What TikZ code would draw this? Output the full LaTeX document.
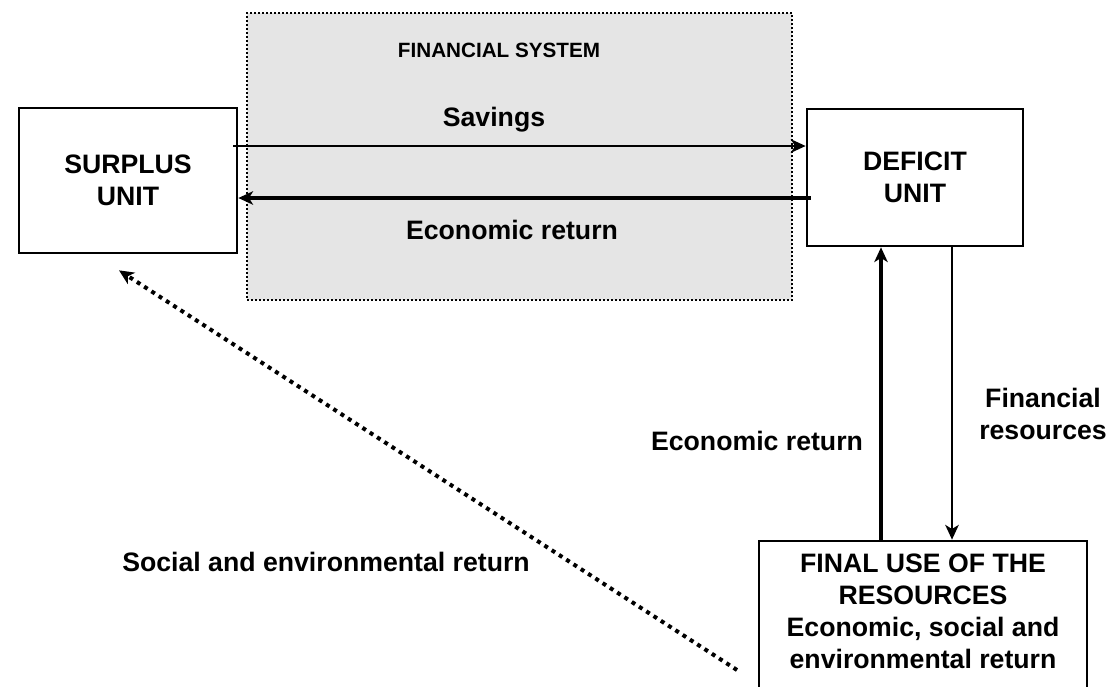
\documentclass[tikz,border=0pt]{standalone}
\usepackage{fontspec}
\setmainfont{Liberation Sans}
\usetikzlibrary{arrows.meta}

\begin{document}
\begin{tikzpicture}[x=0.75pt,y=-0.75pt,
  font=\bfseries\fontsize{20}{24}\selectfont,
  unitbox/.style={draw,line width=2pt,inner sep=0pt,align=center},
  flow/.style={-{Stealth[length=11pt,width=10pt,inset=3pt]}},
  lbl/.style={inner sep=0pt,align=center}]
  \path[use as bounding box,clip] (0,0) rectangle (1117,686);
  % financial system in the middle
  \node[draw,fill=black!10,line width=1.5pt,dash pattern=on 1.5pt off 1.5pt,
        minimum width=408.75pt,minimum height=215.25pt] (finsys) at (519.5,156.5) {};
  \node[lbl,font=\bfseries\fontsize{15.5}{18}\selectfont] (finsyslbl) at (499,50.5) {FINANCIAL SYSTEM};
  \node[unitbox,minimum width=163.5pt,minimum height=108.75pt] (surplus) at (128,180.5) {SURPLUS\\UNIT};
  \node[unitbox,minimum width=162pt,minimum height=102.75pt] (deficit) at (915,177.5) {DEFICIT\\UNIT};
  \node[unitbox,minimum width=246pt,minimum height=119.25pt] (finaluse) at (923,620.5) {};
  \node[lbl] (finaltxt) at (923,611) {FINAL USE OF THE\\RESOURCES\\Economic, social and\\environmental return};
  % flows through the system
  \coordinate (savA) at ([shift={(-5,-34.5)}]surplus.east);
  \coordinate (retA) at ([shift={(5,20.5)}]deficit.west);
  \draw[flow,line width=2pt] (savA) -- (savA -| deficit.west);
  \draw[flow,line width=2.5pt] (retA) -- (retA -| surplus.east);
  \node[lbl] (savlbl) at (494,120) {Savings};
  \node[lbl] (retlbl) at (512,229.5) {Economic return};
  % flows to the final use
  \coordinate (upA) at ([shift={(-34,0)}]deficit.south);
  \coordinate (downA) at ([shift={(37,0)}]deficit.south);
  \draw[flow,line width=2.5pt] (upA |- finaluse.north) -- (upA);
  \draw[flow,line width=2pt] (downA) -- (downA |- finaluse.north);
  \node[lbl] (uplbl) at (757,440.5) {Economic return};
  \node[lbl] (downlbl) at (1043,414) {Financial\\resources};
  % social and environmental return
  \coordinate (socEnd) at (737,670);
  \coordinate (socTip) at ([shift={(-9,16)}]surplus.south);
  \draw[flow,line width=3pt,dash pattern=on 3pt off 3.5pt] (socEnd) -- (socTip);
  \node[lbl,anchor=west] (soclbl) at (122,562) {Social and environmental return};
\end{tikzpicture}
\end{document}
